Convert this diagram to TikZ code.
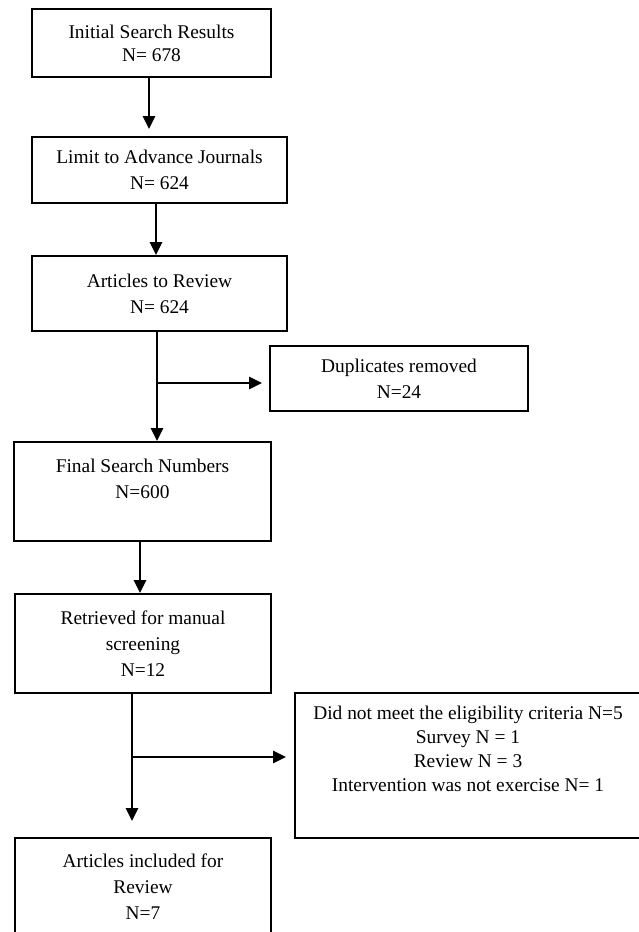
\documentclass[tikz,border=0pt]{standalone}
\usepackage{fontspec}
\setmainfont{Liberation Serif}
\usetikzlibrary{positioning, arrows.meta}

\begin{document}
\begin{tikzpicture}[x=1pt,y=-1pt,
	box/.style={draw,line width=1.8pt,align=center,font=\fontsize{19.4}{26}\selectfont},
	flow/.style={line width=2.4pt,-{Triangle[length=13pt,width=12pt]}}]
	\useasboundingbox (0,0) rectangle (639,932);
	\node (init) at (151.5,43) [box,minimum width=239pt,minimum height=68pt,font=\fontsize{19.4}{23}\selectfont] {Initial Search Results\\N= 678};
	\node (limit) at (159.5,170) [box,minimum width=255pt,minimum height=66pt] {Limit to Advance Journals\\N= 624};
	\node (review) at (159.5,293.5) [box,minimum width=255pt,minimum height=75pt] {Articles to Review\\N= 624};
	\node (dup) at (399,378.5) [box,minimum width=258pt,minimum height=65pt] {Duplicates removed\\N=24};
	\node (final) at (142.5,491.5) [box,minimum width=257pt,minimum height=99pt] {Final Search Numbers\\N=600\\\mbox{}};
	\node (retrieved) at (143,643.5) [box,minimum width=256pt,minimum height=99pt] {Retrieved for manual\\screening\\N=12};
	\node (criteria) at (468,765.5) [box,minimum width=346pt,minimum height=145pt,font=\fontsize{19.4}{24}\selectfont] {Did not meet the eligibility criteria N=5\\Survey N = 1\\Review N = 3\\Intervention was not exercise N= 1\\[9pt]\mbox{}};
	\node (included) at (143,887) [box,minimum width=256pt,minimum height=98pt] {Articles included for\\Review\\N=7};

	\coordinate (a1) at (149,0);
	\coordinate (a2) at (156,0);
	\coordinate (a4) at (140,0);
	\coordinate (fork1) at (157,383);
	\coordinate (fork2) at (132,757);

	\draw[flow,shorten >=7pt] (init.south -| a1) -- (limit.north -| a1);
	\draw[flow] (limit.south -| a2) -- (review.north -| a2);
	\draw[flow] (review.south -| fork1) -- (final.north -| fork1);
	\draw[flow,shorten >=7pt] (fork1) -- (dup.west |- fork1);
	\draw[flow] (final.south -| a4) -- (retrieved.north -| a4);
	\draw[flow,shorten >=16pt] (retrieved.south -| fork2) -- (included.north -| fork2);
	\draw[flow,shorten >=8pt] (fork2) -- (criteria.west |- fork2);
\end{tikzpicture}
\end{document}
